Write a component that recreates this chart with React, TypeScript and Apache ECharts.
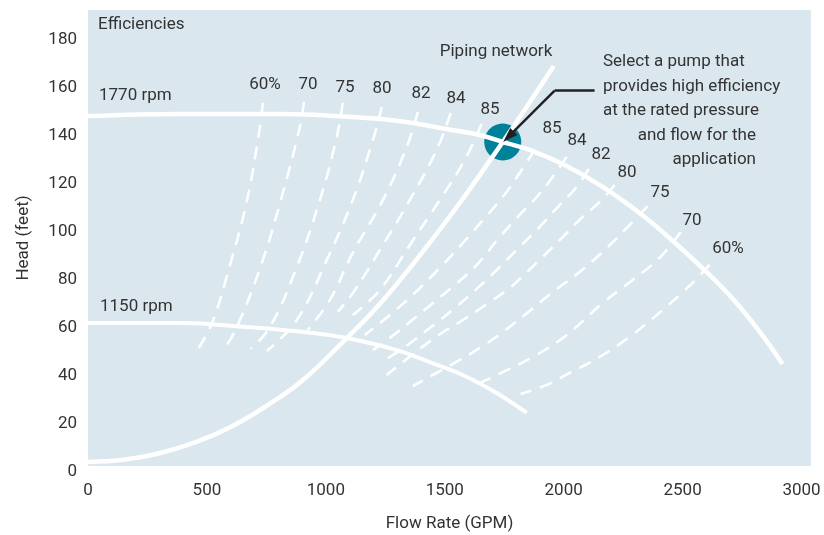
import React, { useEffect, useRef } from 'react';
import * as echarts from 'echarts';

// ---- axes ----
const xTicks = [0, 500, 1000, 1500, 2000, 2500, 3000];
const yTicks = [0, 20, 40, 60, 80, 100, 120, 140, 160, 180];

// ---- pump curves [flow GPM, head ft] ----
const rpm1770 = [[0,145.8],[387,146.7],[807,146.7],[1227,144.6],[1366,142.9],[1508,140.4],[1647,137.9],[1744,135],[1857,131.7],[2004,125.4],[2151,117.1],[2319,105.4],[2445,95],[2601,80.8],[2710,69.8],[2824,56],[2920,42.5]];
const rpm1150 = [[0,59.6],[387,59.6],[668,57.9],[945,55.4],[1088,53.3],[1298,48.3],[1437,43.3],[1576,37.9],[1718,30.4],[1845,22.1]];
const pipingNetwork = [[0,1.7],[150,2.6],[300,5.3],[450,9.8],[600,16.3],[750,25],[900,35.5],[1088,53.3],[1227,67.5],[1387,86.7],[1563,109.6],[1744,135],[1857,151.5],[1958,166.7]];

// ---- efficiency contours, left branches ----
const eff60L = [[735,151.3],[723,141.3],[668,110.4],[597,83.8],[525,60.4],[466,49.2]];
const eff70L = [[908,151.7],[891,141.3],[819,113.8],[735,85.8],[626,57.9],[567,47.9]];
const eff75L = [[1071,151.3],[1046,137.1],[975,110.8],[878,82.9],[765,57.9],[685,48.8]];
const eff80L = [[1235,149.6],[1198,135.8],[1113,110.8],[1004,85.8],[878,60.8],[752,47.9]];
const eff82L = [[1387,147.5],[1340,132.9],[1240,110.8],[1113,88.8],[1017,69.2],[924,56.7]];
const eff84L = [[1525,147.1],[1466,131.7],[1353,110.8],[1227,90],[1122,73.3],[1050,64.2]];
const eff85L = [[1655,142.5],[1584,127.5],[1479,110.8],[1353,92.1],[1227,73.3],[1113,62.9]];

// ---- efficiency contours, right branches ----
const eff85R = [[1878,131.7],[1815,122.1],[1744,112.1],[1668,103.3],[1576,92.9],[1479,82.5],[1374,72.1],[1269,62.9],[1164,54.6]];
const eff84R = [[2013,128.8],[1954,120.4],[1887,112.1],[1807,103.8],[1731,95.4],[1635,83.8],[1542,75.4],[1450,67.9],[1353,60],[1269,53.3],[1198,48.3]];
const eff82R = [[2105,123.8],[2055,116.3],[1975,107.9],[1899,99.6],[1815,91.3],[1731,82.9],[1639,74.2],[1542,65.8],[1437,57.5],[1332,49.6],[1235,43.3]];
const eff80R = [[2214,117.1],[2160,110.8],[2080,103.8],[1996,95.4],[1912,87.1],[1845,80.8],[1773,74.2],[1689,68.3],[1597,62.1],[1487,55.4],[1378,47.5],[1256,37.9]];
const eff75R = [[2353,108.3],[2265,99.2],[2172,90],[2067,80.8],[1954,72.5],[1857,64.6],[1761,57.1],[1660,50],[1563,44.2],[1466,38.8],[1366,33.3]];
const eff70R = [[2492,97.5],[2403,86.7],[2290,77.5],[2164,67.9],[2013,54.6],[1870,45.4],[1718,37.9],[1613,32.9]];
const eff60R = [[2613,83.8],[2542,76.3],[2416,65],[2277,53.8],[2151,45.4],[2025,38.8],[1929,33.8],[1819,30]];

// ---- operating point & arrow ----
const operatingPoint = [1744, 135];
const arrowElbow = [1962, 156.4];
const arrowStart = [2130, 156.4];
const arrowTip = [1768, 137.2];

const leftLabels = ['60%', '70', '75', '80', '82', '84', '85'];
const rightLabels = ['85', '84', '82', '80', '75', '70', '60%'];
const noteLines = ['Select a pump that', 'provides high efficiency', 'at the rated pressure', 'and flow for the', 'application'];

const FONT = "Roboto, 'Liberation Sans', sans-serif";
const FS = 17;
const FW = 400;
const TEXT = '#333333';
const BG = '#dae7ef';

export default function App() {
  const ref = useRef<HTMLDivElement>(null);
  useEffect(() => {
    if (!ref.current) return;
    const chart = echarts.init(ref.current, undefined, { renderer: 'svg' });

    const dashed = (data: number[][]) => ({
      type: 'line', data, smooth: 0.4, symbol: 'none', z: 2, silent: true,
      lineStyle: { color: '#ffffff', width: 2.5, type: [13, 9] },
    });
    const solid = (data: number[][], w: number) => ({
      type: 'line', data, smooth: 0.4, symbol: 'none', z: 3, silent: true,
      lineStyle: { color: '#ffffff', width: w, cap: 'butt' },
    });

    const txt = (text: string, x: number, y: number, align = 'center') => ({
      type: 'text', x, y, z: 50, silent: true,
      style: {
        text, fill: TEXT, fontSize: FS, fontFamily: FONT, fontWeight: FW,
        align, verticalAlign: 'middle', textAlign: align, textVerticalAlign: 'middle',
      },
    });

    const leftPos = [[265,83],[308,83],[345,86],[382,87],[421,92],[456,97],[490,108]];
    const rightPos = [[552,127],[577,139],[601,153],[627,171],[660,191],[692,219],[728,247]];
    const noteY = [60, 84.5, 109, 133.5, 158];

    const graphics: any[] = [
      txt('Efficiencies', 98, 23, 'left'),
      txt('1770 rpm', 99, 94, 'left'),
      txt('1150 rpm', 100, 305, 'left'),
      txt('Piping network', 496, 50),
      ...leftLabels.map((t, i) => txt(t, leftPos[i][0], leftPos[i][1])),
      ...rightLabels.map((t, i) => txt(t, rightPos[i][0], rightPos[i][1])),
      ...noteLines.map((t, i) => (i < 3 ? txt(t, 603, noteY[i], 'left') : txt(t, 756, noteY[i], 'right'))),
    ];

    const axisText = { color: TEXT, fontSize: FS, fontFamily: FONT, fontWeight: FW };

    chart.setOption({
      animation: false,
      grid: { left: 88, right: 13, top: 10, bottom: 69, show: true, backgroundColor: BG, borderWidth: 0 },
      xAxis: {
        type: 'value', min: 0, max: 3040,
        axisLine: { show: false }, axisTick: { show: false }, splitLine: { show: false },
        axisLabel: {
          ...axisText, margin: 14,
          formatter: (v: number) => (xTicks.includes(v) ? String(v) : ''),
        },
        name: 'Flow Rate (GPM)', nameLocation: 'middle', nameGap: 47,
        nameTextStyle: axisText,
      },
      yAxis: {
        type: 'value', min: 0, max: 190, interval: 20,
        axisLine: { show: false }, axisTick: { show: false }, splitLine: { show: false },
        axisLabel: {
          ...axisText, margin: 11, verticalAlign: 'top', lineHeight: 7,
          formatter: (v: number) => (yTicks.includes(v) ? String(v) : ''),
        },
        name: 'Head (feet)', nameLocation: 'middle', nameGap: 58, nameRotate: 90,
        nameTextStyle: axisText,
      },
      series: [
        {
          type: 'scatter', data: [operatingPoint], symbolSize: 37, z: 1, silent: true,
          itemStyle: { color: '#00819a', opacity: 1 },
        },
        dashed(eff60L), dashed(eff70L), dashed(eff75L), dashed(eff80L), dashed(eff82L), dashed(eff84L), dashed(eff85L),
        dashed(eff85R), dashed(eff84R), dashed(eff82R), dashed(eff80R), dashed(eff75R), dashed(eff70R), dashed(eff60R),
        solid(rpm1770, 4.5),
        solid(rpm1150, 4),
        solid(pipingNetwork, 4.5),
        {
          type: 'line', data: [], z: 10, silent: true,
          markLine: {
            silent: true, animation: false,
            label: { show: false },
            lineStyle: { color: '#231f20', width: 2.5, type: 'solid' },
            symbol: ['none', 'none'],
            data: [
              [
                { coord: arrowStart, symbol: 'none' },
                { coord: arrowElbow, symbol: 'none' },
              ],
              [
                { coord: arrowElbow, symbol: 'none' },
                { coord: arrowTip, symbol: 'triangle', symbolSize: [10, 15] },
              ],
            ],
          },
        },
      ],
      graphic: graphics,
    });
    return () => chart.dispose();
  }, []);
  return <div ref={ref} style={{ position: 'fixed', left: 0, top: 0, width: 824, height: 535 }} />;
}
